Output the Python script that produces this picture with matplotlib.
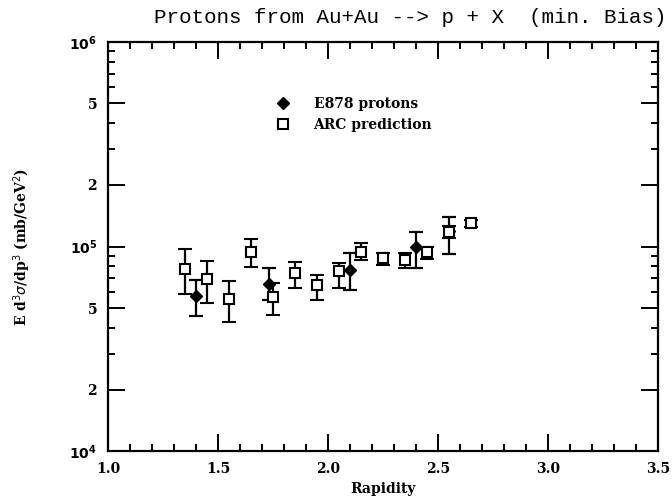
import matplotlib
matplotlib.use('Agg')
import matplotlib.pyplot as plt
from matplotlib.lines import Line2D
from matplotlib.ticker import FixedLocator, FixedFormatter, NullFormatter

# ARC prediction (open squares)
arc_y = [1.35, 1.45, 1.55, 1.65, 1.75, 1.85, 1.95, 2.05, 2.15, 2.25, 2.35, 2.45, 2.55, 2.65]
arc_val = [77.8e3, 69.0e3, 55.4e3, 94.2e3, 56.8e3, 74.3e3, 65.2e3, 75.7e3, 94.2e3, 87.4e3, 85.7e3, 93.8e3, 118e3, 129.6e3]
arc_hi = [96.7e3, 84.7e3, 68.2e3, 109e3, 66.7e3, 84.2e3, 72.9e3, 83.2e3, 103.5e3, 93.1e3, 93.0e3, 99.2e3, 126e3, 134e3]
arc_lo = [58.9e3, 53.1e3, 42.7e3, 79.2e3, 46.1e3, 62.4e3, 54.5e3, 62.8e3, 85.7e3, 81.1e3, 78.7e3, 87.0e3, 110e3, 125e3]

# E878 protons (filled diamonds)
e878_y = [1.40, 1.73, 2.10, 2.40, 2.55]
e878_val = [57.5e3, 65.9e3, 77.2e3, 100e3, 118.8e3]
e878_hi = [68.4e3, 78.7e3, 93.1e3, 118e3, 139e3]
e878_lo = [45.6e3, 55.0e3, 61.1e3, 78.7e3, 92.4e3]

fig = plt.figure(figsize=(6.72, 4.98), dpi=100)
ax = fig.add_axes([0.161, 0.094, 0.818, 0.822])

lab_font = dict(family='DejaVu Serif', weight='bold')

def err(v, hi, lo):
    return [[a - b for a, b in zip(v, lo)], [b - a for a, b in zip(v, hi)]]

ax.errorbar(e878_y, e878_val, yerr=err(e878_val, e878_hi, e878_lo), fmt='D', color='black',
            markersize=6, capsize=5, elinewidth=1.6, capthick=1.6, zorder=3)
ax.errorbar(arc_y, arc_val, yerr=err(arc_val, arc_hi, arc_lo), fmt='s', color='black',
            mfc='white', mec='black', mew=1.5, markersize=7, capsize=5, elinewidth=1.6,
            capthick=1.6, zorder=4)

ax.set_yscale('log')
ax.set_xlim(1.0, 3.5)
ax.set_ylim(1e4, 1e6)

ax.xaxis.set_major_locator(FixedLocator([1.0, 1.5, 2.0, 2.5, 3.0, 3.5]))
ax.xaxis.set_minor_locator(FixedLocator([1.0 + 0.1 * i for i in range(26)]))
ax.xaxis.set_major_formatter(FixedFormatter(['1.0', '1.5', '2.0', '2.5', '3.0', '3.5']))

yt = [1e4, 2e4, 5e4, 1e5, 2e5, 5e5, 1e6]
ax.yaxis.set_major_locator(FixedLocator(yt))
ax.yaxis.set_major_formatter(FixedFormatter([r'$\mathbf{10^4}$', '2', '5', r'$\mathbf{10^5}$', '2', '5', r'$\mathbf{10^6}$']))
minors = [m * 10 ** e for e in (4, 5) for m in (3, 4, 6, 7, 8, 9)]
ax.yaxis.set_minor_locator(FixedLocator(minors))
ax.yaxis.set_minor_formatter(NullFormatter())

ax.tick_params(which='both', direction='in', top=True, right=True, width=1.4)
ax.tick_params(which='major', length=12, labelsize=10, pad=8)
ax.tick_params(which='minor', length=5)
for t in ax.get_xticklabels() + ax.get_yticklabels():
    t.set_fontfamily('DejaVu Serif')
    t.set_fontweight('bold')
for s in ax.spines.values():
    s.set_linewidth(1.6)

ax.set_xlabel('Rapidity', fontsize=10, labelpad=4, **lab_font)
ax.set_ylabel(r'E d$^3\sigma$/dp$^3$ (mb/GeV$^2$)', fontsize=10, labelpad=26, **lab_font)

handles = [Line2D([], [], marker='D', color='black', ls='none', markersize=6),
           Line2D([], [], marker='s', color='black', mfc='white', mew=1.5, ls='none', markersize=7)]
ax.legend(handles, ['E878 protons', 'ARC prediction'], loc='upper left',
          bbox_to_anchor=(0.27, 0.895), frameon=False,
          prop={'family': 'DejaVu Serif', 'weight': 'bold', 'size': 10},
          handletextpad=1.2, labelspacing=0.5)

fig.text(0.61, 0.965, 'Protons from Au+Au --> p + X  (min. Bias)', ha='center', va='center',
         fontsize=15, family='Liberation Mono')

fig.savefig('out.png', dpi=100)
